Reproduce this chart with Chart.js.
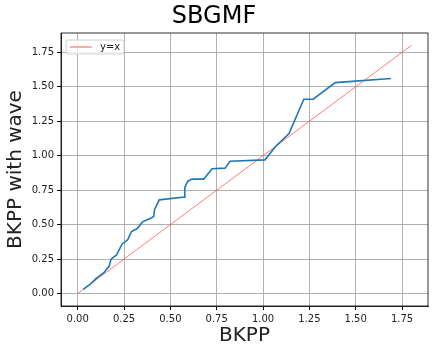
<!DOCTYPE html>
<html>
<head>
<meta charset="utf-8">
<script src="https://cdn.jsdelivr.net/npm/chart.js@4/dist/chart.umd.min.js"></script>
<style>
  html, body { margin: 0; padding: 0; background: #fff; }
  #wrap { width: 436px; height: 355px; }
</style>
</head>
<body>
<div id="wrap"><canvas id="chart"></canvas></div>
<script>
const waveX = [0.03, 0.07, 0.10, 0.14, 0.17, 0.18, 0.21, 0.24, 0.27, 0.29, 0.32, 0.35, 0.40, 0.41, 0.415, 0.44,
               0.576, 0.578, 0.594, 0.617, 0.68, 0.725, 0.795, 0.822, 1.01, 1.07, 1.14, 1.22, 1.27, 1.39, 1.69];
const waveY = [0.03, 0.07, 0.11, 0.15, 0.20, 0.25, 0.28, 0.36, 0.39, 0.45, 0.47, 0.52, 0.55, 0.56, 0.61, 0.68,
               0.70, 0.77, 0.815, 0.83, 0.83, 0.905, 0.91, 0.96, 0.97, 1.07, 1.16, 1.41, 1.41, 1.53, 1.56];
const refX = [0, 1.8];
const refY = [0, 1.8];
const xTicks = [0, 0.25, 0.5, 0.75, 1.0, 1.25, 1.5, 1.75];
const yTicks = [0, 0.25, 0.5, 0.75, 1.0, 1.25, 1.5, 1.75];

const FONT = "'DejaVu Sans', sans-serif";

// matplotlib-like frame + legend inside the axes
const framePlugin = {
  id: 'frame',
  afterDraw(chart) {
    const { ctx, chartArea: a } = chart;
    ctx.save();
    ctx.strokeStyle = '#000';
    ctx.lineWidth = 0.8;
    ctx.strokeRect(a.left, a.top, a.right - a.left, a.bottom - a.top);

    const ds = chart.data.datasets[1];
    const bx = a.left + 5, by = a.top + 7, bw = 58, bh = 14;
    ctx.fillStyle = 'rgba(255,255,255,0.8)';
    ctx.strokeStyle = '#d0d0d0';
    ctx.lineWidth = 1;
    ctx.beginPath();
    ctx.roundRect(bx, by, bw, bh, 2);
    ctx.fill();
    ctx.stroke();
    ctx.strokeStyle = ds.borderColor;
    ctx.lineWidth = 1;
    ctx.beginPath();
    ctx.moveTo(bx + 4, by + bh / 2);
    ctx.lineTo(bx + 26, by + bh / 2);
    ctx.stroke();
    ctx.fillStyle = '#222';
    ctx.font = '10px ' + FONT;
    ctx.textBaseline = 'middle';
    ctx.fillText(ds.label, bx + 34, by + bh / 2 + 0.5);
    ctx.restore();
  }
};

new Chart(document.getElementById('chart'), {
  type: 'scatter',
  data: {
    datasets: [{
      label: 'BKPP with wave',
      data: waveX.map((x, i) => ({ x, y: waveY[i] })),
      showLine: true,
      borderColor: '#1f77b4',
      borderWidth: 1.6,
      pointRadius: 0,
      tension: 0
    }, {
      label: 'y=x',
      data: refX.map((x, i) => ({ x, y: refY[i] })),
      showLine: true,
      borderColor: 'rgba(255,60,60,0.85)',
      borderWidth: 0.8,
      pointRadius: 0,
      tension: 0
    }]
  },
  options: {
    responsive: true,
    maintainAspectRatio: false,
    animation: false,
    layout: { padding: { left: 0, right: 8, top: 0, bottom: 0 } },
    plugins: {
      legend: { display: false },
      tooltip: { enabled: false },
      title: {
        display: true,
        text: 'SBGMF',
        color: '#000',
        font: { family: FONT, size: 24, weight: 'normal', lineHeight: 1.2 },
        padding: { top: 2, bottom: 2.2 }
      }
    },
    scales: {
      x: {
        type: 'linear',
        min: -0.09,
        max: 1.89,
        afterBuildTicks: s => { s.ticks = xTicks.map(v => ({ value: v })); },
        afterFit: s => { s.height = 49; },
        grid: { color: '#b0b0b0', lineWidth: 1, tickLength: 4, tickColor: '#000' },
        border: { color: '#000', width: 0.8 },
        ticks: {
          color: '#222', padding: 3, maxRotation: 0, autoSkip: false,
          font: { family: FONT, size: 10 },
          callback: v => v.toFixed(2)
        },
        title: {
          display: true, text: 'BKPP', color: '#222',
          font: { family: FONT, size: 20, lineHeight: 1.2 },
          padding: { top: 0, bottom: 7 }
        }
      },
      y: {
        type: 'linear',
        min: -0.09,
        max: 1.89,
        afterBuildTicks: s => { s.ticks = yTicks.map(v => ({ value: v })); },
        afterFit: s => { s.width = 61; },
        grid: { color: '#b0b0b0', lineWidth: 1, tickLength: 4, tickColor: '#000' },
        border: { color: '#000', width: 0.8 },
        ticks: {
          color: '#222', padding: 3, autoSkip: false,
          font: { family: FONT, size: 10 },
          callback: v => v.toFixed(2)
        },
        title: {
          display: true, text: 'BKPP with wave', color: '#222',
          font: { family: FONT, size: 20, lineHeight: 1.2 },
          padding: { top: 4, bottom: 0 }
        }
      }
    }
  },
  plugins: [framePlugin]
});
</script>
</body>
</html>
